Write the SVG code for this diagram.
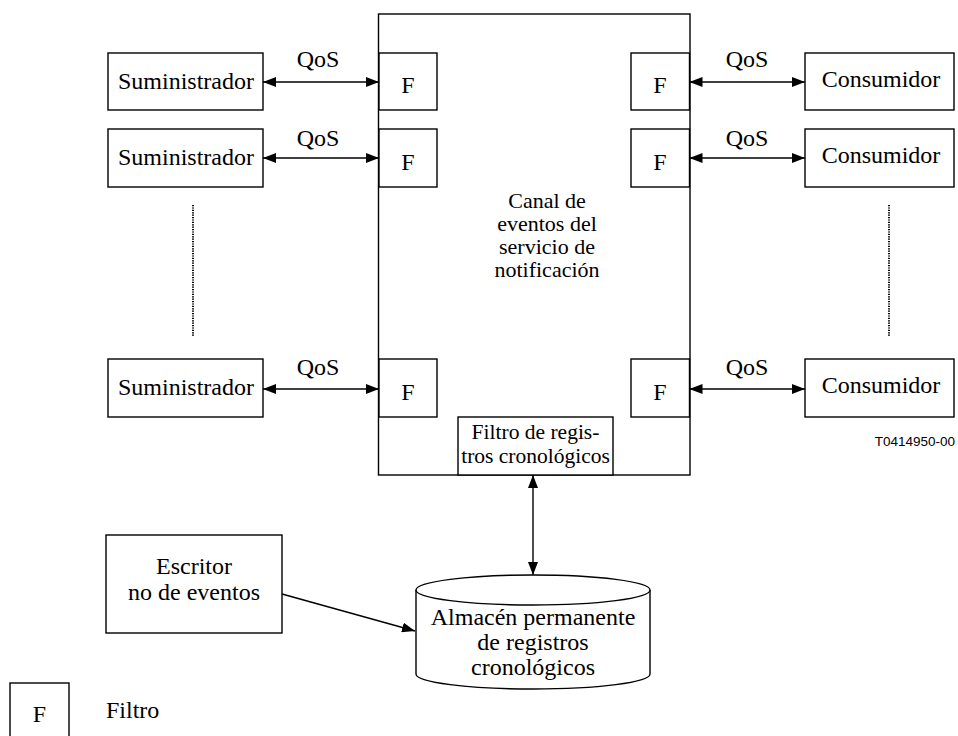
<svg xmlns="http://www.w3.org/2000/svg" width="958" height="736" viewBox="0 0 958 736">
  <style>
    .box { fill: #fff; stroke: #000; stroke-width: 1.4; }
    .t { font-family: "Liberation Serif", "Times New Roman", serif; font-size: 24px; fill: #000; text-anchor: middle; }
    .s { font-size: 21.5px; }
    .line { stroke: #000; stroke-width: 1.4; fill: none; }
    .dots { stroke: #000; stroke-width: 2; stroke-dasharray: 1.2 1.2; fill: none; }
    .code { font-family: "Liberation Sans", Arial, sans-serif; font-size: 13.5px; fill: #000; text-anchor: end; }
  </style>
  <defs>
    <marker id="ah" viewBox="0 0 13 10" refX="13" refY="5" markerWidth="13" markerHeight="10" markerUnits="userSpaceOnUse" orient="auto-start-reverse">
      <path d="M0,0 L13,5 L0,10 Z" fill="#000"/>
    </marker>
  </defs>
  <rect width="958" height="736" fill="#fff"/>

  <!-- notification channel -->
  <g id="canal">
    <rect class="box" x="378.5" y="14" width="311.5" height="461"/>
    <text class="t" x="547" y="208" style="font-size:22px">Canal de</text>
    <text class="t" x="547" y="231" style="font-size:22px">eventos del</text>
    <text class="t" x="547" y="254" style="font-size:22px">servicio de</text>
    <text class="t" x="547" y="277" style="font-size:22px">notificación</text>
  </g>

  <!-- filters on the channel edges -->
  <g id="filtro-s1"><rect class="box" x="379" y="53" width="58" height="57"/><text class="t" x="408" y="93">F</text></g>
  <g id="filtro-s2"><rect class="box" x="379" y="129" width="58" height="58"/><text class="t" x="408" y="170">F</text></g>
  <g id="filtro-s3"><rect class="box" x="379" y="359" width="58" height="58"/><text class="t" x="408" y="400">F</text></g>
  <g id="filtro-c1"><rect class="box" x="631" y="53" width="58.5" height="57"/><text class="t" x="660" y="93">F</text></g>
  <g id="filtro-c2"><rect class="box" x="631" y="129" width="58.5" height="58"/><text class="t" x="660" y="170">F</text></g>
  <g id="filtro-c3"><rect class="box" x="631" y="359" width="58.5" height="58"/><text class="t" x="660" y="400">F</text></g>

  <g id="filtro-registros">
    <rect class="box" x="458" y="417" width="155" height="58"/>
    <text class="t s" x="535.5" y="439">Filtro de regis-</text>
    <text class="t s" x="535.5" y="463">tros cronológicos</text>
  </g>

  <!-- suppliers -->
  <g id="suministrador-1"><rect class="box" x="108" y="53" width="155" height="57"/><text class="t" x="186" y="89">Suministrador</text></g>
  <g id="suministrador-2"><rect class="box" x="108" y="129" width="155" height="58"/><text class="t" x="186" y="165">Suministrador</text></g>
  <g id="suministrador-3"><rect class="box" x="108" y="359" width="155" height="58"/><text class="t" x="186" y="395">Suministrador</text></g>

  <!-- consumers -->
  <g id="consumidor-1"><rect class="box" x="805" y="53" width="149" height="57"/><text class="t" x="881" y="87">Consumidor</text></g>
  <g id="consumidor-2"><rect class="box" x="805" y="129" width="149" height="58"/><text class="t" x="881" y="163">Consumidor</text></g>
  <g id="consumidor-3"><rect class="box" x="805" y="359" width="149" height="58"/><text class="t" x="881" y="393">Consumidor</text></g>

  <!-- writer -->
  <g id="escritor">
    <rect class="box" x="106" y="535" width="176" height="98"/>
    <text class="t" x="194" y="574">Escritor</text>
    <text class="t" x="194" y="600">no de eventos</text>
  </g>

  <!-- persistent log store -->
  <g id="almacen">
    <path class="box" d="M416,590 L416,674 A117,15 0 0 0 650,674 L650,590"/>
    <ellipse class="box" cx="533" cy="590" rx="117" ry="15"/>
    <text class="t" x="533" y="625">Almacén permanente</text>
    <text class="t" x="533" y="650">de registros</text>
    <text class="t" x="533" y="675">cronológicos</text>
  </g>

  <!-- legend -->
  <g id="leyenda">
    <rect class="box" x="10" y="683" width="59" height="60"/>
    <text class="t" x="39.5" y="722">F</text>
    <text class="t" x="106" y="718" style="text-anchor:start">Filtro</text>
  </g>

  <text class="code" x="955" y="446">T0414950-00</text>

  <!-- connectors -->
  <g id="conectores">
    <line class="line" x1="263" y1="82" x2="379" y2="82" marker-start="url(#ah)" marker-end="url(#ah)"/>
    <line class="line" x1="263" y1="158" x2="379" y2="158" marker-start="url(#ah)" marker-end="url(#ah)"/>
    <line class="line" x1="263" y1="389" x2="379" y2="389" marker-start="url(#ah)" marker-end="url(#ah)"/>
    <line class="line" x1="689.5" y1="82" x2="805" y2="82" marker-start="url(#ah)" marker-end="url(#ah)"/>
    <line class="line" x1="689.5" y1="158" x2="805" y2="158" marker-start="url(#ah)" marker-end="url(#ah)"/>
    <line class="line" x1="689.5" y1="389" x2="805" y2="389" marker-start="url(#ah)" marker-end="url(#ah)"/>
    <line class="line" x1="533" y1="475" x2="533" y2="575" marker-start="url(#ah)" marker-end="url(#ah)"/>
    <line class="line" x1="282" y1="594" x2="415" y2="631" marker-end="url(#ah)"/>
    <line class="dots" x1="193" y1="205" x2="193" y2="337"/>
    <line class="dots" x1="889" y1="205" x2="889" y2="337"/>
  </g>

  <!-- QoS labels -->
  <g id="etiquetas">
    <text class="t" x="318" y="67">QoS</text>
    <text class="t" x="318" y="146">QoS</text>
    <text class="t" x="318" y="375">QoS</text>
    <text class="t" x="747" y="67">QoS</text>
    <text class="t" x="747" y="146">QoS</text>
    <text class="t" x="747" y="375">QoS</text>
  </g>
</svg>
